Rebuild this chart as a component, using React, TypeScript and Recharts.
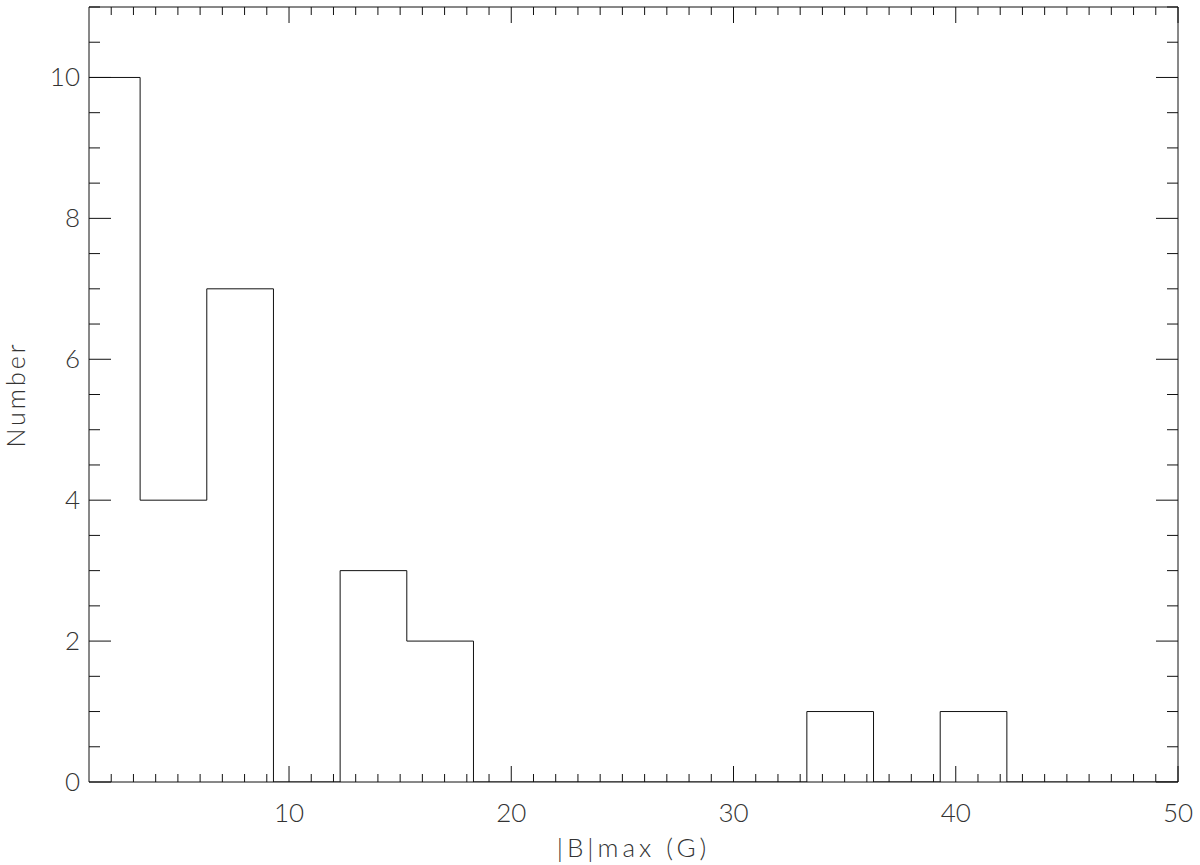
import React from 'react';
import { LineChart, Line, XAxis, YAxis } from 'recharts';

// Histogram bin edges (left edge of each step) and counts
const binEdges = [1, 3.3, 6.3, 9.3, 12.3, 15.3, 18.3, 33.3, 36.3, 39.3, 42.3, 50];
const counts = [10, 4, 7, 0, 3, 2, 0, 1, 0, 1, 0, 0];

const xMajorTicks = [10, 20, 30, 40, 50];
const yMajorTicks = [0, 2, 4, 6, 8, 10];
const xMinorTicks = Array.from({ length: 49 }, (_, i) => i + 2);
const yMinorTicks = Array.from({ length: 22 }, (_, i) => (i + 1) * 0.5);

const xTicksAll = Array.from(new Set([...xMinorTicks, ...xMajorTicks])).sort((a, b) => a - b);
const yTicksAll = Array.from(new Set([...yMinorTicks, ...yMajorTicks])).sort((a, b) => a - b);

const data = binEdges.map((x, i) => ({ x, count: counts[i] }));

const FONT = 'Lato, "Open Sans", "DejaVu Sans", sans-serif';
const TEXT_COLOR = '#333';
const LINE = '#111';

const isMajorX = (v: number) => xMajorTicks.includes(v);
const isMajorY = (v: number) => yMajorTicks.includes(v);

const BottomTick = (props: any) => {
  const { x, y, payload } = props;
  const v = payload.value;
  const major = isMajorX(v);
  return (
    <g>
      <line x1={x} x2={x} y1={y} y2={y - (major ? 16 : 8)} stroke={LINE} strokeWidth={1} />
      {major && (
        <text x={x} y={y + 40} textAnchor="middle" fontSize={26} fontWeight={300} fontFamily={FONT} fill={TEXT_COLOR}>
          {v}
        </text>
      )}
    </g>
  );
};

const TopTick = (props: any) => {
  const { x, y, payload } = props;
  const major = isMajorX(payload.value);
  return <line x1={x} x2={x} y1={y} y2={y + (major ? 16 : 8)} stroke={LINE} strokeWidth={1} />;
};

const LeftTick = (props: any) => {
  const { x, y, payload } = props;
  const v = payload.value;
  const major = isMajorY(v);
  return (
    <g>
      <line x1={x} x2={x + (major ? 22 : 11)} y1={y} y2={y} stroke={LINE} strokeWidth={1} />
      {major && (
        <text x={x - 9} y={y + 9} textAnchor="end" fontSize={26} fontWeight={300} fontFamily={FONT} fill={TEXT_COLOR}>
          {v}
        </text>
      )}
    </g>
  );
};

const RightTick = (props: any) => {
  const { x, y, payload } = props;
  const major = isMajorY(payload.value);
  return <line x1={x} x2={x - (major ? 22 : 11)} y1={y} y2={y} stroke={LINE} strokeWidth={1} />;
};

const XTitle = (props: any) => {
  const { viewBox } = props;
  const cx = viewBox.x + viewBox.width / 2;
  return (
    <text x={cx} y={857} textAnchor="middle" fontSize={26} fontWeight={300} fontFamily={FONT} fill={TEXT_COLOR} letterSpacing={4}>
      |B|max (G)
    </text>
  );
};

const YTitle = (props: any) => {
  const { viewBox } = props;
  const cx = 25;
  const cy = viewBox.y + viewBox.height / 2;
  return (
    <text
      x={cx}
      y={cy}
      transform={`rotate(-90 ${cx} ${cy})`}
      textAnchor="middle"
      fontSize={25}
      fontWeight={300}
      fontFamily={FONT}
      fill={TEXT_COLOR}
      letterSpacing={3}
    >
      Number
    </text>
  );
};

export default function App() {
  return (
    <div style={{ position: 'absolute', left: 0, top: 0, width: 1200, height: 865, background: '#fff' }}>
      <LineChart width={1200} height={865} data={data} margin={{ top: 0, right: 0, bottom: 0, left: 0 }}>
        <XAxis
          xAxisId="bottom"
          dataKey="x"
          type="number"
          domain={[1, 50]}
          allowDataOverflow
          ticks={xTicksAll}
          interval={0}
          height={83}
          tickSize={0}
          tickMargin={0}
          tickLine={false}
          axisLine={{ stroke: LINE, strokeWidth: 1 }}
          tick={<BottomTick />}
          label={<XTitle />}
        />
        <XAxis
          xAxisId="top"
          orientation="top"
          dataKey="x"
          type="number"
          domain={[1, 50]}
          allowDataOverflow
          ticks={xTicksAll}
          interval={0}
          height={7}
          tickSize={0}
          tickMargin={0}
          tickLine={false}
          axisLine={{ stroke: LINE, strokeWidth: 1 }}
          tick={<TopTick />}
        />
        <YAxis
          yAxisId="left"
          type="number"
          domain={[0, 11]}
          allowDataOverflow
          ticks={yTicksAll}
          interval={0}
          width={89}
          tickSize={0}
          tickMargin={0}
          tickLine={false}
          axisLine={{ stroke: LINE, strokeWidth: 1 }}
          tick={<LeftTick />}
          label={<YTitle />}
        />
        <YAxis
          yAxisId="right"
          orientation="right"
          type="number"
          domain={[0, 11]}
          allowDataOverflow
          ticks={yTicksAll}
          interval={0}
          width={22}
          tickSize={0}
          tickMargin={0}
          tickLine={false}
          axisLine={{ stroke: LINE, strokeWidth: 1 }}
          tick={<RightTick />}
        />
        <Line
          xAxisId="bottom"
          yAxisId="left"
          dataKey="count"
          type="stepAfter"
          stroke={LINE}
          strokeWidth={1}
          dot={false}
          isAnimationActive={false}
        />
      </LineChart>
    </div>
  );
}
